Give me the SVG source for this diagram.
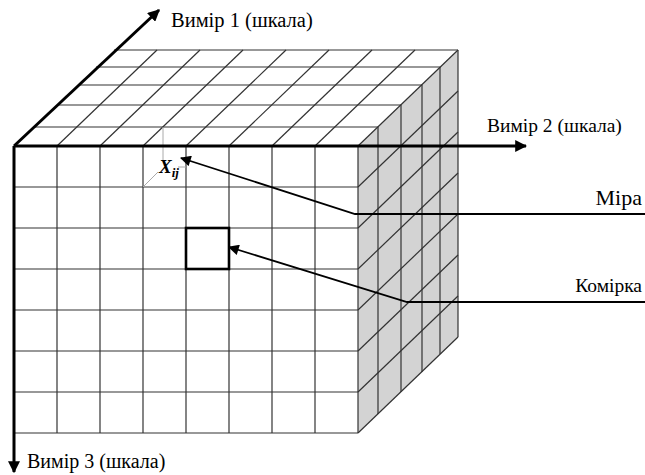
<svg xmlns="http://www.w3.org/2000/svg" width="645" height="475" viewBox="0 0 645 475">
<style>
.g{stroke:#333;stroke-width:1.2;fill:none}
.ax{stroke:#000;stroke-width:3;fill:none}
.ld{stroke:#000;stroke-width:1.8;fill:none}
.hid{stroke:#aaa;stroke-width:1;fill:none}
.t{font-family:"Liberation Serif","Times New Roman",serif;fill:#000}
</style>
<defs>
<marker id="ah" viewBox="0 0 10 10" refX="9" refY="5" markerWidth="4" markerHeight="4" orient="auto" markerUnits="strokeWidth"><path d="M0,0 L10,5 L0,10 z" fill="#000"/></marker>
<marker id="ahs" viewBox="0 0 10 10" refX="9" refY="5" markerWidth="7" markerHeight="6" orient="auto" markerUnits="strokeWidth"><path d="M0,0 L10,5 L0,10 z" fill="#000"/></marker>
</defs>
<rect width="645" height="475" fill="#fff"/>
<g id="cube">
<polygon points="14,146 358,146 458,50 114,50" fill="#fff"/>
<polygon points="358,146 458,50 458,337 358,433" fill="#d3d3d3"/>
<rect x="14" y="146" width="344" height="287" fill="#fff"/>
<g class="g">
<line x1="34" y1="127" x2="378" y2="127"/>
<line x1="57" y1="105" x2="401" y2="105"/>
<line x1="78" y1="85" x2="422" y2="85"/>
<line x1="96" y1="67" x2="440" y2="67"/>
<line x1="114" y1="50" x2="458" y2="50"/>
<line x1="57" y1="146" x2="157" y2="50"/>
<line x1="100" y1="146" x2="200" y2="50"/>
<line x1="143" y1="146" x2="243" y2="50"/>
<line x1="186" y1="146" x2="286" y2="50"/>
<line x1="229" y1="146" x2="329" y2="50"/>
<line x1="272" y1="146" x2="372" y2="50"/>
<line x1="315" y1="146" x2="415" y2="50"/>
<line x1="358" y1="146" x2="458" y2="50"/>
<line x1="378" y1="127" x2="378" y2="414"/>
<line x1="401" y1="105" x2="401" y2="392"/>
<line x1="422" y1="85" x2="422" y2="372"/>
<line x1="440" y1="67" x2="440" y2="354"/>
<line x1="458" y1="50" x2="458" y2="337"/>
<line x1="358" y1="187" x2="458" y2="91"/>
<line x1="358" y1="228" x2="458" y2="132"/>
<line x1="358" y1="269" x2="458" y2="173"/>
<line x1="358" y1="310" x2="458" y2="214"/>
<line x1="358" y1="351" x2="458" y2="255"/>
<line x1="358" y1="392" x2="458" y2="296"/>
<line x1="358" y1="433" x2="458" y2="337"/>
<line x1="57" y1="146" x2="57" y2="433"/>
<line x1="100" y1="146" x2="100" y2="433"/>
<line x1="143" y1="146" x2="143" y2="433"/>
<line x1="186" y1="146" x2="186" y2="433"/>
<line x1="229" y1="146" x2="229" y2="433"/>
<line x1="272" y1="146" x2="272" y2="433"/>
<line x1="315" y1="146" x2="315" y2="433"/>
<line x1="358" y1="146" x2="358" y2="433"/>
<line x1="14" y1="187" x2="358" y2="187"/>
<line x1="14" y1="228" x2="358" y2="228"/>
<line x1="14" y1="269" x2="358" y2="269"/>
<line x1="14" y1="310" x2="358" y2="310"/>
<line x1="14" y1="351" x2="358" y2="351"/>
<line x1="14" y1="392" x2="358" y2="392"/>
<line x1="14" y1="433" x2="358" y2="433"/>
</g>
<g class="hid">
<line x1="163" y1="127" x2="163" y2="160"/>
<line x1="143" y1="187" x2="158" y2="172"/>
<line x1="178" y1="167" x2="186" y2="167"/>
</g>
</g>
<g id="cell">
<rect x="186" y="228" width="43" height="41" fill="none" stroke="#000" stroke-width="2.6"/>
</g>
<g id="xij">
<text class="t" x="159" y="173" font-size="19" font-weight="bold" font-style="italic">X<tspan font-size="13" dy="4">ij</tspan></text>
</g>
<g id="connectors">
<line class="ax" x1="14" y1="146" x2="159" y2="10" marker-end="url(#ah)"/>
<line class="ax" x1="14" y1="146" x2="526" y2="146" marker-end="url(#ah)"/>
<line class="ax" x1="14" y1="146" x2="14" y2="472" marker-end="url(#ah)"/>
<polyline class="ld" points="645,214 355,214 181,158" marker-end="url(#ahs)"/>
<polyline class="ld" points="645,302 407,302 229,247" marker-end="url(#ahs)"/>
</g>
<g id="labels">
<text class="t" x="171" y="27" font-size="20.5">Вимір 1 (шкала)</text>
<text class="t" x="487" y="132" font-size="19.5">Вимір 2 (шкала)</text>
<text class="t" x="27" y="468" font-size="20">Вимір 3 (шкала)</text>
<text class="t" x="642" y="205" font-size="22" text-anchor="end">Міра</text>
<text class="t" x="642" y="292" font-size="19.5" text-anchor="end">Комірка</text>
</g>
</svg>
